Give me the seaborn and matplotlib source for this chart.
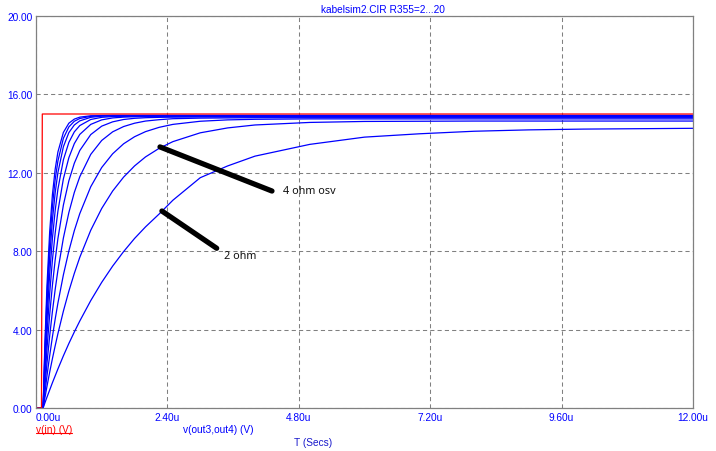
import numpy as np
import pandas as pd
import matplotlib
matplotlib.use("Agg")
import matplotlib.pyplot as plt
from matplotlib.lines import Line2D
import seaborn as sns

# ---------------- data ----------------
t_us = [0.00, 0.13, 0.16, 0.20, 0.25, 0.30, 0.35, 0.40, 0.50, 0.60, 0.70, 0.80,
        1.00, 1.20, 1.40, 1.60, 1.80, 2.00, 2.25, 2.50, 3.00, 3.50, 4.00, 5.00,
        6.00, 7.00, 8.00, 9.00, 10.00, 11.00, 12.00]

v_2ohm = [0, 0, 0.24, 0.55, 0.92, 1.29, 1.64, 1.99, 2.66, 3.29, 3.88, 4.44,
          5.48, 6.41, 7.24, 7.98, 8.65, 9.24, 9.90, 10.60, 11.75, 12.35, 12.85, 13.45,
          13.82, 13.99, 14.12, 14.19, 14.23, 14.25, 14.27]
v_4ohm = [0, 0, 0.48, 1.10, 1.83, 2.52, 3.17, 3.79, 4.94, 5.96, 6.87, 7.69,
          9.07, 10.18, 11.07, 11.78, 12.35, 12.81, 13.25, 13.59, 14.04, 14.29, 14.44, 14.57,
          14.62, 14.63, 14.64, 14.64, 14.64, 14.64, 14.64]
v_6ohm = [0, 0, 0.72, 1.63, 2.67, 3.64, 4.53, 5.35, 6.79, 8.01, 9.05, 9.92,
          11.29, 12.27, 12.97, 13.48, 13.84, 14.10, 14.32, 14.47, 14.63, 14.70, 14.73, 14.75,
          14.75, 14.75, 14.75, 14.75, 14.75, 14.75, 14.75]
v_8ohm = [0, 0, 1.02, 2.27, 3.68, 4.93, 6.04, 7.02, 8.67, 9.97, 11.00, 11.80,
          12.94, 13.65, 14.09, 14.36, 14.53, 14.64, 14.71, 14.76, 14.79, 14.80, 14.81, 14.81,
          14.81, 14.81, 14.81, 14.81, 14.81, 14.81, 14.81]
v_10ohm = [0, 0, 1.37, 3.00, 4.77, 6.27, 7.55, 8.64, 10.35, 11.59, 12.49, 13.14,
           13.95, 14.38, 14.60, 14.72, 14.78, 14.81, 14.83, 14.84, 14.85, 14.85, 14.85, 14.85,
           14.85, 14.85, 14.85, 14.85, 14.85, 14.85, 14.85]
v_12ohm = [0, 0, 1.75, 3.76, 5.85, 7.55, 8.92, 10.04, 11.69, 12.77, 13.49, 13.96,
           14.47, 14.70, 14.80, 14.84, 14.86, 14.86, 14.87, 14.87, 14.87, 14.87, 14.87, 14.87,
           14.87, 14.87, 14.87, 14.87, 14.87, 14.87, 14.87]
v_14ohm = [0, 0, 2.12, 4.49, 6.84, 8.66, 10.07, 11.16, 12.66, 13.55, 14.09, 14.41,
           14.72, 14.83, 14.87, 14.88, 14.89, 14.89, 14.89, 14.89, 14.89, 14.89, 14.89, 14.89,
           14.89, 14.89, 14.89, 14.89, 14.89, 14.89, 14.89]
v_16ohm = [0, 0, 2.48, 5.15, 7.71, 9.59, 10.98, 12.01, 13.33, 14.05, 14.44, 14.65,
           14.83, 14.89, 14.90, 14.91, 14.91, 14.91, 14.91, 14.91, 14.91, 14.91, 14.91, 14.91,
           14.91, 14.91, 14.91, 14.91, 14.91, 14.91, 14.91]
v_18ohm = [0, 0, 2.79, 5.71, 8.40, 10.30, 11.65, 12.60, 13.76, 14.34, 14.63, 14.77,
           14.88, 14.91, 14.92, 14.92, 14.92, 14.92, 14.92, 14.92, 14.92, 14.92, 14.92, 14.92,
           14.92, 14.92, 14.92, 14.92, 14.92, 14.92, 14.92]
v_20ohm = [0, 0, 3.08, 6.22, 9.00, 10.89, 12.18, 13.06, 14.06, 14.53, 14.74, 14.84,
           14.91, 14.92, 14.93, 14.93, 14.93, 14.93, 14.93, 14.93, 14.93, 14.93, 14.93, 14.93,
           14.93, 14.93, 14.93, 14.93, 14.93, 14.93, 14.93]

r355_ohm = [2, 4, 6, 8, 10, 12, 14, 16, 18, 20]
v_out = [v_2ohm, v_4ohm, v_6ohm, v_8ohm, v_10ohm, v_12ohm, v_14ohm, v_16ohm, v_18ohm, v_20ohm]

t_in = [0.00, 0.10, 0.115, 12.00]
v_in = [0.0, 0.0, 15.0, 15.0]

x_ticks = [0.0, 2.4, 4.8, 7.2, 9.6, 12.0]
x_labels = ["0.00u", "2.40u", "4.80u", "7.20u", "9.60u", "12.00u"]
y_ticks = [0, 4, 8, 12, 16, 20]
y_labels = ["0.00", "4.00", "8.00", "12.00", "16.00", "20.00"]

title_text = "kabelsim2.CIR R355=2...20"
note_4 = "4 ohm osv"
note_2 = "2 ohm"

# ---------------- frame ----------------
df_out = pd.DataFrame({
    "t": np.tile(t_us, len(r355_ohm)),
    "v": np.concatenate(v_out),
    "R": np.repeat(r355_ohm, len(t_us)),
})
df_in = pd.DataFrame({"t": t_in, "v": v_in})

sns.set_theme(style="white")
plt.rcParams["font.family"] = ["Liberation Sans", "DejaVu Sans"]

W, H = 716, 452
fig = plt.figure(figsize=(W / 100, H / 100), dpi=100)
ax = fig.add_axes([36 / W, (H - 409) / H, (693 - 36) / W, (409 - 17) / H])
ax.set_facecolor("white")

blue = "#0000ff"
red = "#ff0000"
grey = "#808080"

sns.lineplot(data=df_out, x="t", y="v", units="R", estimator=None, sort=False,
             color=blue, lw=0.9, ax=ax, legend=False)
sns.lineplot(data=df_in, x="t", y="v", estimator=None, sort=False,
             color=red, lw=0.9, ax=ax, legend=False)

ax.set_xlim(0, 12)
ax.set_ylim(0, 20)
ax.set_xticks(x_ticks)
ax.set_xticklabels(x_labels)
ax.set_yticks(y_ticks)
ax.set_yticklabels(y_labels)
ax.tick_params(axis="both", length=0, labelsize=7.3, labelcolor=blue)
ax.tick_params(axis="x", pad=3)
ax.tick_params(axis="y", pad=2.5)
ax.get_xticklabels()[0].set_horizontalalignment("left")
ax.set_xlabel("")
ax.set_ylabel("")
ax.grid(True, color=grey, lw=0.75, linestyle=(0, (4, 3)))
for s in ax.spines.values():
    s.set_color(grey)
    s.set_linewidth(0.9)

# annotations
ax.plot([2.265, 4.31], [13.32, 11.07], color="black", lw=3.8, solid_capstyle="round")
ax.plot([2.30, 3.30], [10.05, 8.15], color="black", lw=3.8, solid_capstyle="round")
ax.text(4.51, 11.12, note_4, fontsize=7.8, color="#111111", va="center", ha="left",
        family=["Noto Sans", "DejaVu Sans"])
ax.text(3.43, 7.77, note_2, fontsize=7.8, color="#111111", va="center", ha="left",
        family=["Noto Sans", "DejaVu Sans"])

# title and bottom labels
fig.text(383 / W, 1 - 10 / H, title_text, ha="center", va="center", fontsize=7.3, color=blue)
fig.text(36 / W, 1 - 430 / H, "v(in) (V)", ha="left", va="center", fontsize=7.3, color=red)
fig.add_artist(Line2D([36 / W, 72 / W], [1 - 434 / H, 1 - 434 / H], color=red, lw=0.8))
fig.text(183 / W, 1 - 430 / H, "v(out3,out4) (V)", ha="left", va="center", fontsize=7.3, color=blue)
fig.text(313 / W, 1 - 443 / H, "T (Secs)", ha="center", va="center", fontsize=7.3, color="#1a1acc")

fig.savefig("out.png", dpi=100, facecolor="white")
